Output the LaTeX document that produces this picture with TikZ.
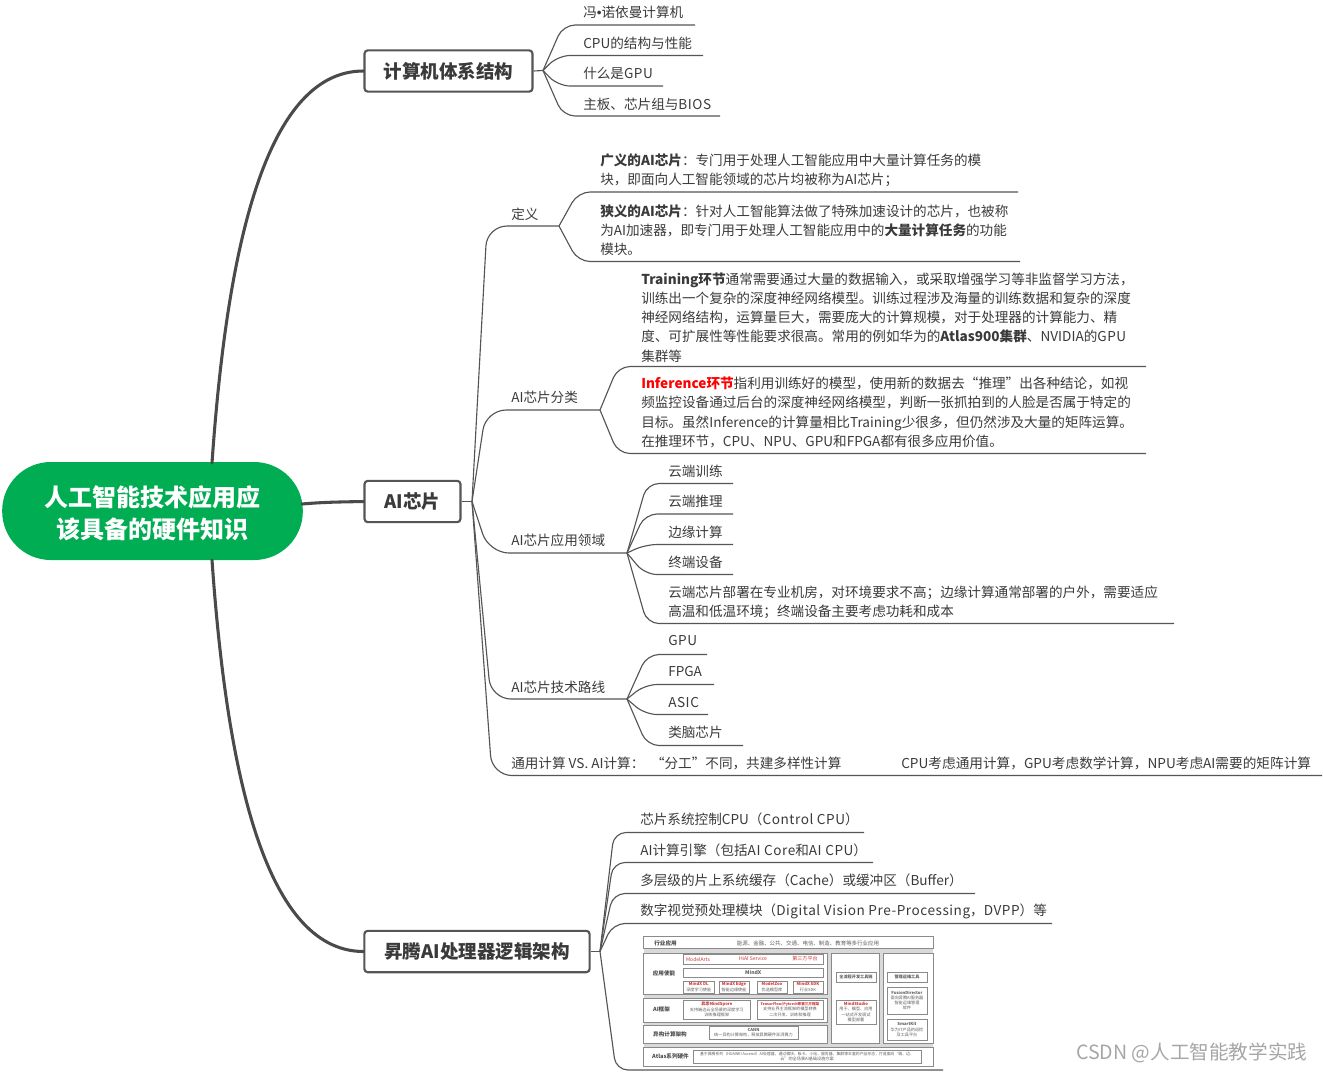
\documentclass[tikz,border=0pt]{standalone}
\usepackage{fontspec}
\setmainfont{Noto Sans CJK SC}
\usetikzlibrary{calc}
\definecolor{txt}{HTML}{3A3A3A}
\definecolor{ln}{HTML}{555555}
\definecolor{thick}{HTML}{4A4A4A}
\definecolor{rootg}{HTML}{00AD52}
\definecolor{band}{HTML}{D9D9D9}
\definecolor{frm}{HTML}{8A8A8A}
\definecolor{redt}{HTML}{D0393A}
\newcommand{\lsp}[1]{{\addfontfeatures{LetterSpace=4}#1}}
\newfontfamily\bulletfont{Liberation Sans}
\tikzset{
  lbl/.style={anchor=west,inner sep=0pt,text=txt,align=left,font=\fontsize{10.2pt}{14.4pt}\selectfont},
  topicbox/.style={draw=ln,line width=1.6pt,fill=white,rounded corners=2.5pt,inner sep=0pt,text=txt,font=\bfseries\fontsize{13.9pt}{16pt}\selectfont},
  bline/.style={draw=ln,line width=.85pt,rounded corners=9pt},
  thickline/.style={draw=thick,line width=2.3pt,line cap=round},
  mini/.style={draw=frm,line width=.45pt,fill=white,inner sep=0pt,align=center,text=txt!80,font=\fontsize{3.1pt}{3.9pt}\selectfont},
  minil/.style={anchor=center,inner sep=0pt,text=txt!90,font=\bfseries\fontsize{4.2pt}{5pt}\selectfont},
  pane/.style={draw=frm,line width=.4pt,fill=white},
}
% \leaf{hub}{name}{corner x}{y}{free end x}
\newcommand{\leaf}[5]{%
  \coordinate (#2c) at (#3,#4);
  \coordinate (#2e) at (#5,#4);
  \draw[bline] (#1) -- (#2c) -- (#2e);
}
\newcommand{\minibox}[6]{% name x1 y1 x2 y2 text
  \node[mini,minimum width={(#4-#2)*.75pt},minimum height={(#5-#3)*.75pt}] (#1) at ({(#2+#4)/2},{(#3+#5)/2}) {#6};
}
\begin{document}
\begin{tikzpicture}[x=.75pt,y=-.75pt]
\useasboundingbox (0,0) rectangle (1323,1072);

% root and topics
\node[fill=rootg,rounded corners=36.5pt,minimum width=225.5pt,minimum height=73.5pt,inner sep=0pt,text=white,align=center,font=\bfseries\fontsize{18pt}{24pt}\selectfont] (root) at (152.5,511) {\rule{0pt}{19pt}人工智能技术应用应\\该具备的硬件知识};
\node[topicbox,minimum width=126pt,minimum height=31pt] (t1) at (448.5,71) {计算机体系结构};
\node[topicbox,minimum width=72pt,minimum height=31pt] (t2) at (412.5,501.5) {AI芯片};
\node[topicbox,minimum width=169pt,minimum height=31pt] (t3) at (477,951.5) {昇腾AI处理器逻辑架构};

\coordinate (r1) at (212,463);
\coordinate (r2) at (302,504);
\coordinate (r3) at (212,560);
\draw[thickline] (r1) .. controls (226,262) and (262,71) .. (t1.west);
\draw[thickline] (r2) .. controls (325,502) and (340,502) .. (t2.west);
\draw[thickline] (r3) .. controls (226,760) and (262,951) .. (t3.west);

% group 1
\coordinate (h1) at (543,70.5);
\draw[bline] (t1.east) -- (h1);
\leaf{h1}{a}{563}{25}{695}
\leaf{h1}{b}{558}{55.5}{703}
\leaf{h1}{c}{558}{86}{663}
\leaf{h1}{d}{563}{116}{720}
\node[lbl] (at) at (583,12) {冯{\bulletfont •}诺依曼计算机};
\node[lbl] (bt) at (583,43) {CPU的结构与性能};
\node[lbl] (ct) at (583,73) {什么是\lsp{GPU}};
\node[lbl] (dt) at (583,104) {主板、芯片组与\lsp{BIOS}};

% group 2
\coordinate (h2) at (472,501.5);
\draw[bline] (t2.east) -- (h2);
\begin{scope}[bline/.append style={rounded corners=15pt}]
\leaf{h2}{def}{487}{226}{559}
\leaf{h2}{cls}{486}{410}{600}
\leaf{h2}{app}{489}{553}{627}
\leaf{h2}{tech}{491}{699}{627}
\leaf{h2}{gen}{492}{775.5}{1322}
\end{scope}
\node[lbl] (deft) at (511,214) {定义};
\node[lbl] (clst) at (511,397) {AI芯片分类};
\node[lbl] (appt) at (511,540) {AI芯片应用领域};
\node[lbl] (techt) at (511,687) {AI芯片技术路线};
\node[lbl] (gent) at (511,763) {通用计算 VS. AI计算：\hspace{5pt}“分工”不同，共建多样性计算};
\node[lbl,font=\fontsize{10.24pt}{14.4pt}\selectfont] (gent2) at (901,763) {CPU考虑通用计算，GPU考虑数学计算，NPU考虑AI需要的矩阵计算};

\leaf{defe}{d1}{578}{192}{1018}
\leaf{defe}{d2}{578}{261.5}{1020}
\node[lbl] (d1t) at (600,170.5) {\textbf{广义的AI芯片}：专门用于处理人工智能应用中大量计算任务的模\\块，即面向人工智能领域的芯片均被称为AI芯片；};
\node[lbl] (d2t) at (600,230) {\textbf{狭义的AI芯片}：针对人工智能算法做了特殊加速设计的芯片，也被称\\为AI加速器，即专门用于处理人工智能应用中的\textbf{大量计算任务}的功能\\模块。};

\leaf{clse}{c1}{618}{366.5}{1146}
\leaf{clse}{c2}{618}{453.5}{1146}
\node[lbl] (c1t) at (641,317.5) {\textbf{Training环节}通常需要通过大量的数据输入，或采取增强学习等非监督学习方法，\\训练出一个复杂的深度神经网络模型。训练过程涉及海量的训练数据和复杂的深度\\神经网络结构，运算量巨大，需要庞大的计算规模，对于处理器的计算能力、精\\度、可扩展性等性能要求很高。常用的例如华为的\textbf{Atlas900集群}、NVIDIA的\lsp{GPU}\\集群等};
\node[lbl] (c2t) at (641,412.5) {\textcolor{red}{\textbf{Inference环节}}指利用训练好的模型，使用新的数据去“推理”出各种结论，如视\\频监控设备通过后台的深度神经网络模型，判断一张抓拍到的人脸是否属于特定的\\目标。虽然Inference的计算量相比Training少很多，但仍然涉及大量的矩阵运算。\\在推理环节，CPU、NPU、GPU和FPGA都有很多应用价值。};

\leaf{appe}{p1}{647}{483.5}{733}
\leaf{appe}{p2}{645}{514}{733}
\leaf{appe}{p3}{645}{544.5}{733}
\leaf{appe}{p4}{645}{574.5}{733}
\leaf{appe}{p5}{647}{623.5}{1174}
\node[lbl] (p1t) at (668,471) {云端训练};
\node[lbl] (p2t) at (668,501) {云端推理};
\node[lbl] (p3t) at (668,532) {边缘计算};
\node[lbl] (p4t) at (668,562) {终端设备};
\node[lbl] (p5t) at (668,602) {云端芯片部署在专业机房，对环境要求不高；边缘计算通常部署的户外，需要适应\\高温和低温环境；终端设备主要考虑功耗和成本};

\leaf{teche}{q1}{647}{654.5}{707}
\leaf{teche}{q2}{645}{684.5}{714}
\leaf{teche}{q3}{645}{714.5}{708}
\leaf{teche}{q4}{647}{745.5}{743}
\node[lbl] (q1t) at (668,641) {\lsp{GPU}};
\node[lbl] (q2t) at (668,671) {FPGA};
\node[lbl] (q3t) at (668,702) {\lsp{ASIC}};
\node[lbl] (q4t) at (668,732) {类脑芯片};

% group 3
\coordinate (h3) at (600,951.5);
\draw[bline] (t3.east) -- (h3);
\leaf{h3}{s1}{614}{832.5}{864}
\leaf{h3}{s2}{613}{862.5}{873}
\leaf{h3}{s3}{613}{893.5}{975}
\leaf{h3}{s4}{613}{923.5}{1052}
\leaf{h3}{s5}{616}{1070}{943}
\node[lbl] (s1t) at (640,819) {芯片系统控制CPU（\lsp{Control CPU}）};
\node[lbl] (s2t) at (640,850) {AI计算引擎（包括\lsp{AI Core}和\lsp{AI CPU}）};
\node[lbl] (s3t) at (640,880) {多层级的片上系统缓存（Cache）或缓冲区（Buffer）};
\node[lbl] (s4t) at (640,911) {数字视觉预处理模块（\lsp{Digital Vision Pre-Processing}，\lsp{DVPP}）等};

% embedded architecture figure
\fill[band] (643.5,936) rectangle (933,1066);
\draw[pane] (643.5,936.5) rectangle (933,948.5);
\draw[pane] (643.5,953) rectangle (827,994);
\draw[pane] (643.5,998) rectangle (827,1022);
\draw[pane] (643.5,1025.5) rectangle (827,1043);
\draw[pane] (643.5,1047) rectangle (933,1066);
\draw[pane] (831,953) rectangle (879,1043);
\draw[pane] (883,953) rectangle (933,1043);

\node[minil] (m1) at (665.5,943) {行业应用};
\node[inner sep=0pt,text=txt!80,font=\fontsize{4.1pt}{5pt}\selectfont] (m2) at (808,943) {能源、金融、公共、交通、电信、制造、教育等多行业应用};
\node[minil] (m3) at (664,973.5) {应用使能};
\node[minil] (m4) at (661.5,1009.5) {AI框架};
\node[minil] (m5) at (670,1034) {异构计算架构};
\node[minil] (m6) at (670.5,1056) {Atlas系列硬件};

\minibox{m7}{683.5}{954}{823}{964}{}
\node[inner sep=0pt,text=redt,font=\fontsize{3.8pt}{4.5pt}\selectfont] (m7a) at (698,959) {ModelArts};
\node[inner sep=0pt,text=redt,font=\fontsize{3.8pt}{4.5pt}\selectfont] (m7b) at (753,959) {HiAI Service};
\node[inner sep=0pt,text=redt,font=\fontsize{3.8pt}{4.5pt}\selectfont] (m7c) at (805,959) {第三方平台};
\minibox{m8}{683.5}{968}{823}{977}{\textbf{\fontsize{3.8pt}{4.5pt}\selectfont MindX}}
\minibox{m9}{683.5}{981}{714}{993}{\textcolor{redt}{\textbf{MindX DL}}\\深度学习使能}
\minibox{m10}{719}{981}{749}{993}{\textcolor{redt}{\textbf{MindX Edge}}\\智能边缘使能}
\minibox{m11}{757}{981}{787}{993}{\textcolor{redt}{\textbf{ModelZoo}}\\优选模型库}
\minibox{m12}{793}{981}{823}{993}{\textcolor{redt}{\textbf{MindX SDK}}\\行业SDK}
\minibox{m13}{683.5}{1000}{750}{1019}{\textcolor{redt}{\textbf{昇思MindSpore}}\\支持端边云全场景的深度学习\\训练推理框架}
\minibox{m14}{757}{1000}{823}{1019}{\textcolor{redt}{\textbf{\fontsize{2.7pt}{3.9pt}\selectfont TensorFlow/Pytorch等第三方框架}}\\支持业界主流框架的模型转换\\二次开发、训练和推理}
\minibox{m15}{709}{1026}{798}{1039}{\textbf{CANN}\\统一异构计算架构，释放昇腾硬件澎湃算力}
\minibox{m16}{836}{972}{876}{982}{\textbf{全流程开发工具链}}
\minibox{m17}{836}{1000}{876}{1024}{\textcolor{redt}{\textbf{MindStudio}}\\用于、模型、应用\\一站式开发调试\\模型部署}
\minibox{m18}{887}{972}{927}{982}{\textbf{管理运维工具}}
\minibox{m19}{887}{987}{927}{1014}{\textbf{FusionDirector}\\面向昇腾AI服务器\\智能运维管理\\软件}
\minibox{m20}{887}{1019}{927}{1040}{\textbf{SmartKit}\\华为IT产品的巡检\\及工具平台}
\minibox{m21}{693}{1050}{921}{1063}{\fontsize{2.9pt}{3.9pt}\selectfont 基于昇腾系列（HUAWEI Ascend）AI处理器，通过模块、板卡、小站、服务器、集群等丰富的产品形态，打造面向“端、边、\\云”的全场景AI基础设施方案}

% watermark
\node[anchor=west,inner sep=0pt,text=black!35,font=\fontsize{14.7pt}{18pt}\selectfont] (wm) at (1076,1053) {CSDN @人工智能教学实践};
\end{tikzpicture}
\end{document}
